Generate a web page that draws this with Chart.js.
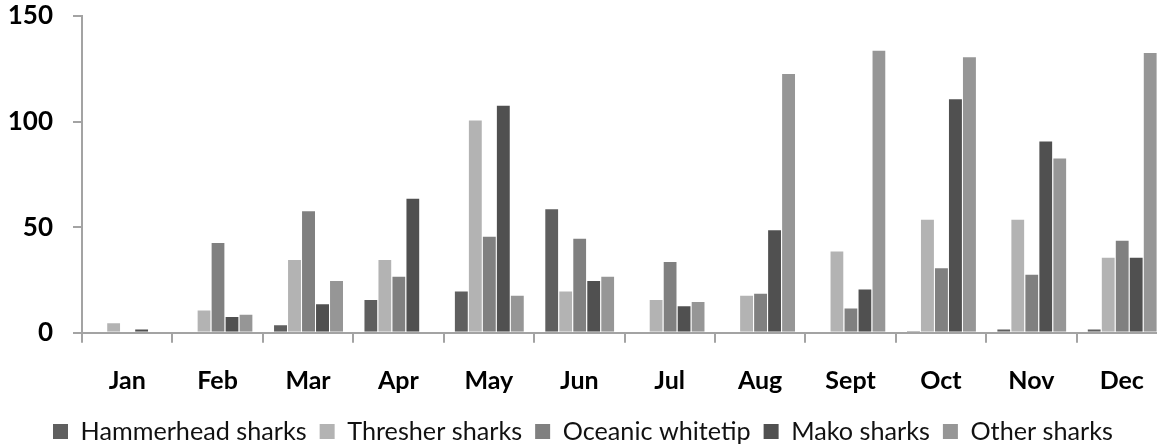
<!DOCTYPE html>
<html>
<head>
<meta charset="utf-8">
<script src="https://cdn.jsdelivr.net/npm/chart.js@4/dist/chart.umd.min.js"></script>
<style>
  html, body { margin: 0; padding: 0; background: #ffffff; overflow: hidden; }
  #wrap { position: relative; width: 1167px; height: 454px; }
</style>
</head>
<body>
<div id="wrap"><canvas id="chart"></canvas></div>
<script>
// Monthly shark catches by group
const months = ['Jan', 'Feb', 'Mar', 'Apr', 'May', 'Jun', 'Jul', 'Aug', 'Sept', 'Oct', 'Nov', 'Dec'];
const seriesNames = ['Hammerhead sharks', 'Thresher sharks', 'Oceanic whitetip', 'Mako sharks', 'Other sharks'];
const hammerhead = [0, 0, 4, 16, 20, 59, 0, 0, 0, 1, 2, 2];
const thresher   = [5, 11, 35, 35, 101, 20, 16, 18, 39, 54, 54, 36];
const oceanic    = [0, 43, 58, 27, 46, 45, 34, 19, 12, 31, 28, 44];
const mako       = [2, 8, 14, 64, 108, 25, 13, 49, 21, 111, 91, 36];
const other      = [0, 9, 25, 0, 18, 27, 15, 123, 134, 131, 83, 133];
const yTicks = [0, 50, 100, 150];

const fills = ['#5f5f5f', '#b3b3b3', '#808080', '#505050', '#969696'];
const values = [hammerhead, thresher, oceanic, mako, other];
const axisGray = '#a3a3a3';
const FONT = 'Lato, "Liberation Sans", sans-serif';

const datasets = values.map((v, i) => ({
  label: seriesNames[i],
  data: v,
  backgroundColor: fills[i],
  borderColor: 'rgba(255,255,255,0.75)',
  borderWidth: { top: 1, left: 1, right: 0, bottom: 0 },
  borderSkipped: false,
  categoryPercentage: 0.774,
  barPercentage: 1.0
}));

// moves the bottom legend row to start under the plot instead of at the canvas edge
const legendOffset = {
  id: 'legendOffset',
  afterLayout(chart) {
    const lg = chart.legend;
    if (lg) { lg.left += 40; lg.right += 40; }
  }
};

new Chart(document.getElementById('chart'), {
  type: 'bar',
  data: { labels: months, datasets },
  plugins: [legendOffset],
  options: {
    responsive: true,
    maintainAspectRatio: false,
    animation: false,
    events: [],
    layout: { padding: { top: 16, left: 0, right: 0, bottom: 0 } },
    plugins: {
      tooltip: { enabled: false },
      legend: {
        position: 'bottom',
        align: 'start',
        labels: {
          boxWidth: 15,
          boxHeight: 15,
          padding: 13,
          color: '#111111',
          font: { family: FONT, size: 25.2, weight: 'normal' },
          generateLabels(chart) {
            const items = Chart.defaults.plugins.legend.labels.generateLabels(chart);
            return items.map(it => Object.assign(it, { lineWidth: 0, strokeStyle: it.fillStyle }));
          }
        }
      }
    },
    scales: {
      x: {
        offset: true,
        border: { display: true, color: axisGray, width: 2 },
        grid: {
          display: true,
          offset: true,
          drawOnChartArea: false,
          drawTicks: true,
          tickLength: 10,
          color: axisGray,
          lineWidth: 2
        },
        ticks: {
          color: '#000000',
          padding: 23,
          maxRotation: 0,
          autoSkip: false,
          font: { family: FONT, size: 25, weight: 'bold' }
        },
        afterFit(scale) { scale.height = 73; }
      },
      y: {
        min: 0,
        max: 150,
        border: { display: true, color: axisGray, width: 2 },
        grid: {
          display: true,
          drawOnChartArea: false,
          drawTicks: true,
          tickLength: 9,
          color: axisGray,
          lineWidth: 2
        },
        afterBuildTicks(scale) { scale.ticks = yTicks.map(v => ({ value: v })); },
        ticks: {
          color: '#000000',
          padding: 20,
          font: { family: FONT, size: 26, weight: 'bold' }
        },
        afterFit(scale) {
          scale.width = 82;
          scale.paddingTop = 0;
          scale.paddingBottom = 0;
        }
      }
    }
  }
});
</script>
</body>
</html>
